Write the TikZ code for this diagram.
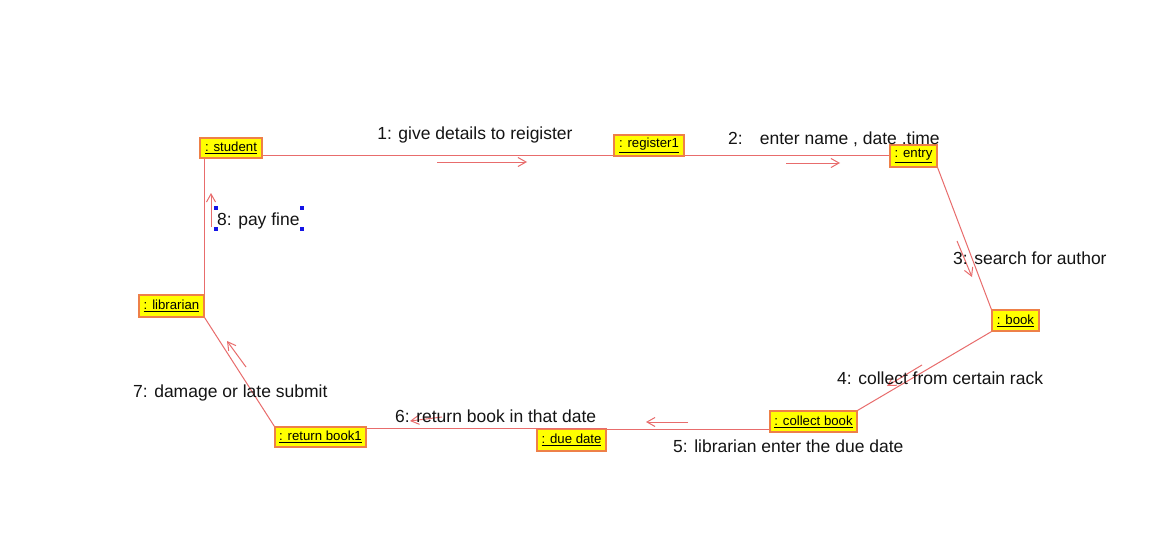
\documentclass[tikz,border=0pt]{standalone}
\usepackage{fontspec}
\setmainfont{Liberation Sans}
\usetikzlibrary{arrows.meta}
\definecolor{linecol}{RGB}{232,108,108}
\definecolor{boxdraw}{RGB}{238,128,72}
\definecolor{boxfill}{RGB}{255,255,0}
\definecolor{handle}{RGB}{20,20,230}
\tikzset{
  obj/.style={draw=boxdraw, fill=boxfill, line width=1.2pt, inner sep=0pt,
    minimum height=21pt, font=\fontsize{13.2}{15}\selectfont},
  conn/.style={draw=linecol, line width=1pt},
  msg/.style={draw=linecol, line width=1pt, -{Straight Barb[length=8pt,width=9pt,line width=1pt]}},
  lbl/.style={anchor=mid west, inner sep=0pt, font=\fontsize{17.5}{20}\selectfont, text=black!92},
  hdl/.style={fill=handle, minimum size=3.2pt, inner sep=0pt}
}
\newcommand{\ul}[1]{\underline{#1}}
\begin{document}
\begin{tikzpicture}[x=1pt,y=-1pt]
\useasboundingbox (0,0) rectangle (1165,546);
\fill[white] (0,0) rectangle (1165,546);
% objects
\node[obj, minimum width=62pt, minimum height=20pt] (student) at (231,148) {\ul{: student}};
\node[obj, minimum width=70pt] (register) at (649,145.5) {\ul{: register1}};
\node[obj, minimum width=47pt, minimum height=22pt] (entry) at (913.5,156) {\ul{: entry}};
\node[obj, minimum width=47pt] (book) at (1015.5,320.5) {\ul{: book}};
\node[obj, minimum width=87pt] (collect) at (813.5,421.5) {\ul{: collect book}};
\node[obj, minimum width=69pt, minimum height=22pt] (due) at (571.5,440) {\ul{: due date}};
\node[obj, minimum width=91pt, minimum height=20pt] (return) at (320.5,437) {\ul{: return book1}};
\node[obj, minimum width=65pt, minimum height=22pt] (librarian) at (171.5,306) {\ul{: librarian}};
% links
\draw[conn] ([yshift=-7pt]student.east) -- ([yshift=-7pt]student.east -| register.west);
\draw[conn] ([yshift=-9.5pt]register.east) -- ([yshift=-9.5pt]register.east -| entry.west);
\draw[conn] (entry.south east) -- (book.north west);
\draw[conn] (book.south west) -- (collect.north east);
\draw[conn] ([yshift=-7.5pt]collect.west) -- ([yshift=-7.5pt]collect.west -| due.north east);
\draw[conn] (due.north east) -- ([yshift=-2pt]return.north east);
\draw[conn] (return.north west) -- (librarian.south east);
\draw[conn] (librarian.north east) -- (librarian.north east |- student.south);
% messages
\draw[msg] (437,162) -- (527,162);
\node[lbl, anchor=mid] (m1) at (475,137) {1: give details to reigister};
\draw[msg] (786,163) -- (840,163);
\node[lbl] (m2) at (728,142) {2:\hspace{17pt}enter name , date .time};
\draw[msg] (957,241) -- (972,277);
\node[lbl] (m3) at (953,262) {3: search for author};
\draw[msg] (922,365) -- (887,386);
\node[lbl] (m4) at (837,382) {4: collect from certain rack};
\draw[msg] (688,422) -- (646,422);
\node[lbl] (m5) at (673,450) {5: librarian enter the due date};
\draw[msg] (442,417) -- (410,421);
\node[lbl] (m6) at (395,420) {6: return book in that date};
\draw[msg] (246,367) -- (227,341);
\node[lbl] (m7) at (133,395) {7: damage or late submit};
\draw[msg] (211,227) -- (211,193);
\node[lbl] (m8) at (217,223) {8: pay fine};
\node[hdl] (h1) at (216,208) {};
\node[hdl] (h2) at (216,229) {};
\node[hdl] (h3) at (302,208) {};
\node[hdl] (h4) at (302,229) {};
\end{tikzpicture}
\end{document}
